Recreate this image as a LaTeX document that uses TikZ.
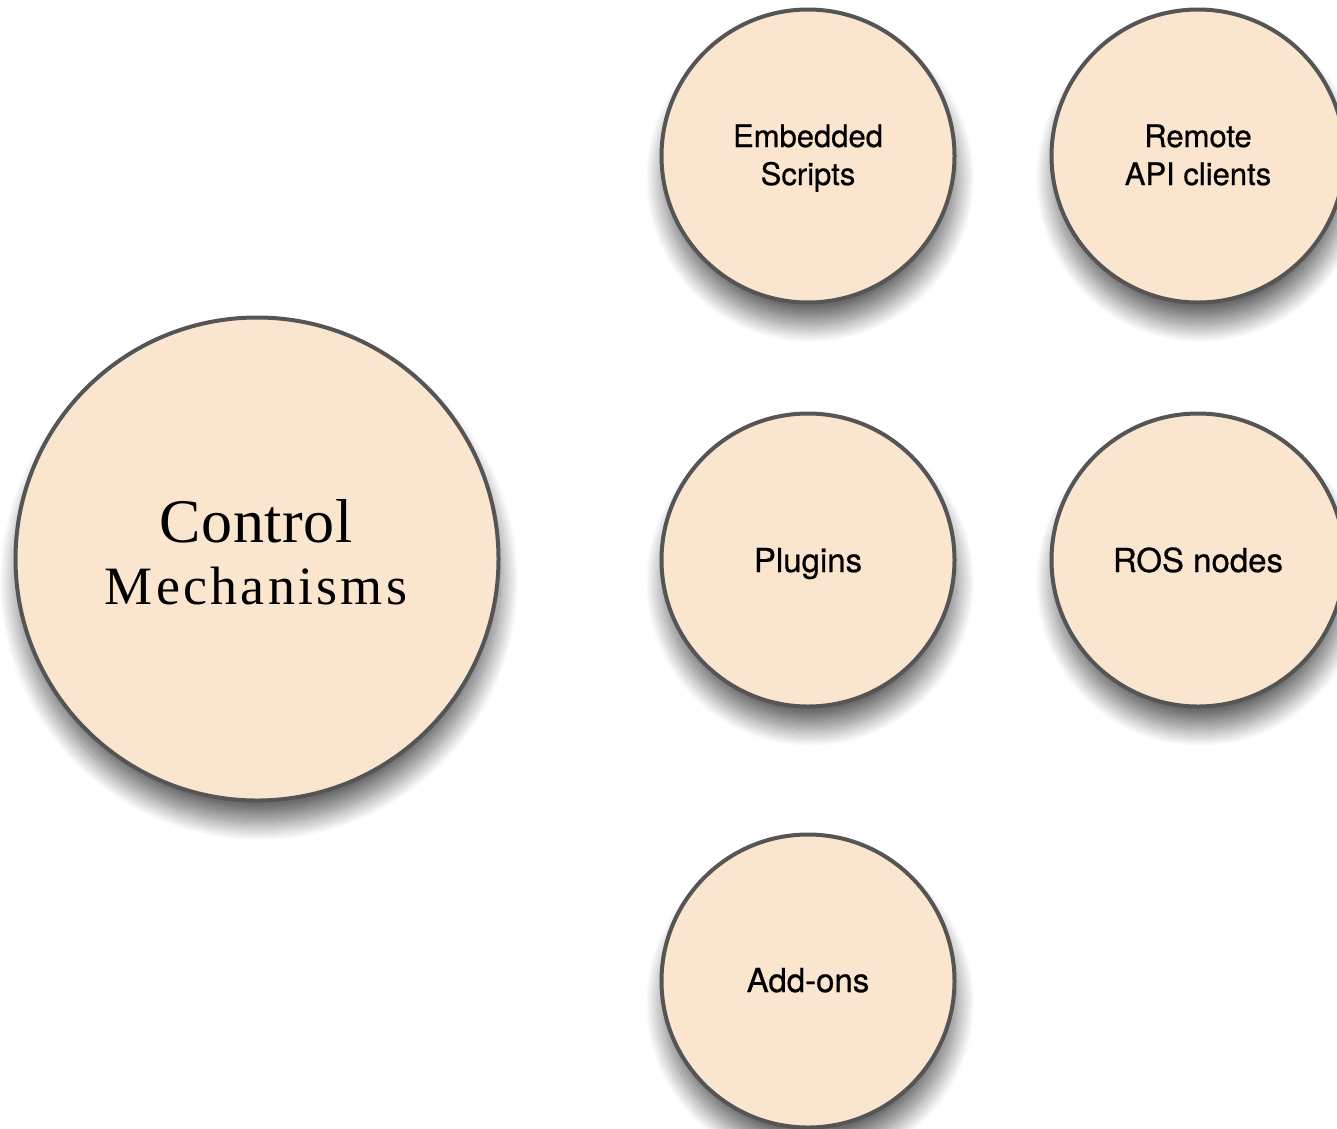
\documentclass[tikz,border=0pt]{standalone}
\usepackage{fontspec}
\setmainfont{Liberation Serif}
\newfontfamily\labelfont[FakeBold=0.6]{TeX Gyre Heros}
\newfontfamily\titlefont[LetterSpace=1]{Liberation Serif}
\newfontfamily\titlewidefont[LetterSpace=6]{Liberation Serif}
\usetikzlibrary{shadows.blur}

\definecolor{bubblefill}{RGB}{250,229,207}
\definecolor{bubbleline}{RGB}{85,85,85}

\tikzset{
  bubble/.style={circle, draw=bubbleline, line width=4pt, fill=bubblefill,
    inner sep=0pt, outer sep=0pt,
    blur shadow={shadow xshift=2pt, shadow yshift=-22pt,
                 shadow blur radius=18pt, shadow blur steps=30,
                 shadow opacity=58}},
  bigbubble/.style={bubble, minimum size=483pt},
  smallbubble/.style={bubble, minimum size=293pt},
  % anchor=base sits on the baseline of the last line
  twoline/.style={anchor=base, align=center, inner sep=0pt,
    font=\labelfont\fontsize{31}{38}\selectfont},
  oneline/.style={anchor=base, inner sep=0pt,
    font=\labelfont\fontsize{33}{38}\selectfont},
  titletext/.style={anchor=base, align=center, inner sep=0pt,
    font=\titlewidefont\fontsize{54}{62}\selectfont}
}

\begin{document}
\begin{tikzpicture}[x=1pt, y=-1pt]
  \useasboundingbox (0,0) rectangle (1337,1128);

  % main topic
  \node[bigbubble] (ctrl) at (257,559) {};
  \node[titletext] (ctrltext) at (256,604)
    {{\titlefont\fontsize{62}{62}\selectfont Control}\\Mechanisms};

  % control options
  \node[smallbubble] (scripts) at (808,156) {};
  \node[smallbubble] (remote)  at (1198,156) {};
  \node[smallbubble] (plugins) at (808,560) {};
  \node[smallbubble] (ros)     at (1198,560) {};
  \node[smallbubble] (addons)  at (808,981) {};

  \node[twoline] (scriptstext) at (808,185) {Embedded\\Scripts};
  \node[twoline] (remotetext)  at (1198,185) {Remote\\API clients};
  \node[oneline] (pluginstext) at (808,572) {Plugins};
  \node[oneline] (rostext)     at (1198,572) {ROS nodes};
  \node[oneline] (addonstext)  at (808,992) {Add-ons};
\end{tikzpicture}
\end{document}
